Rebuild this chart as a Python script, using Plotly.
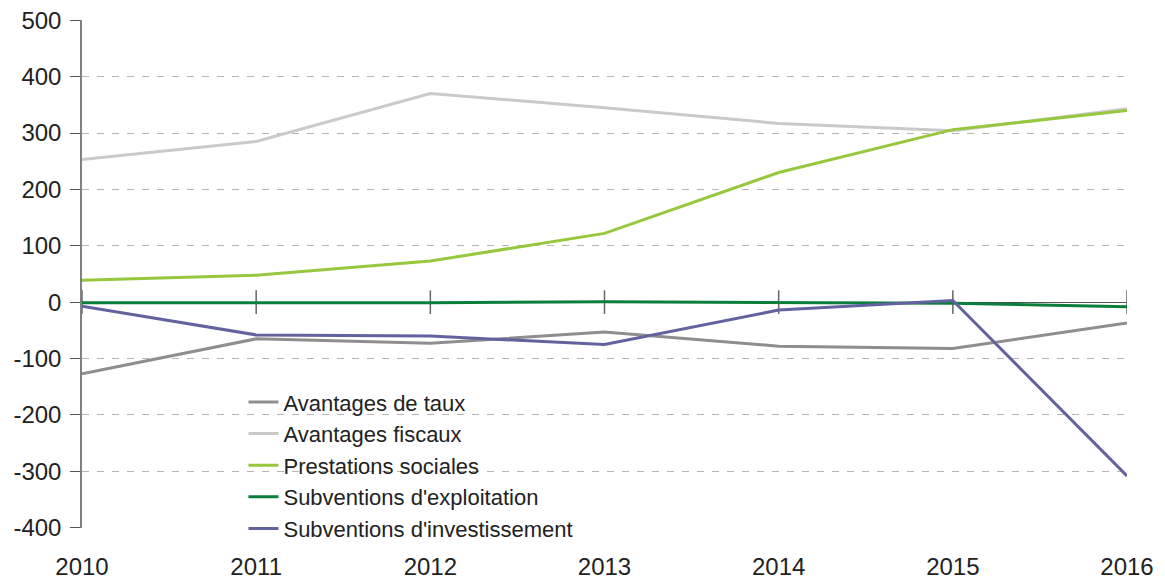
import plotly.graph_objects as go

years = [2010, 2011, 2012, 2013, 2014, 2015, 2016]
avantages_taux = [-127, -65, -73, -53, -78, -82, -37]
avantages_fiscaux = [253, 285, 370, 345, 317, 304, 343]
prestations_sociales = [39, 48, 73, 122, 230, 306, 340]
subv_exploitation = [-1, -1, -1, 1, -1, -2, -8]
subv_investissement = [-7, -58, -60, -75, -14, 3, -308]

names = ["Avantages de taux", "Avantages fiscaux", "Prestations sociales",
         "Subventions d'exploitation", "Subventions d'investissement"]
series = [avantages_taux, avantages_fiscaux, prestations_sociales,
          subv_exploitation, subv_investissement]
colors = ["#8e8e8e", "#cacaca", "#95c83d", "#0b7e3b", "#62639e"]

y_ticks = [-400, -300, -200, -100, 0, 100, 200, 300, 400, 500]
y_ticktext = ["-400", "-300", "-200", "-100", "0", "100", "200", "300", "400", "500"]
y_range = [-400.4, 500.4]

FONT = "Liberation Sans, Arial, sans-serif"
fig = go.Figure()

# x-axis tick marks drawn on the zero line
fig.add_trace(go.Scatter(
    x=years, y=[0] * len(years), mode="markers", showlegend=False, hoverinfo="skip",
    marker=dict(symbol="line-ns", size=17, line=dict(width=1.5, color="#666666")),
))

for name, vals, col in zip(names, series, colors):
    fig.add_trace(go.Scatter(x=years, y=vals, mode="lines", name=name,
                             line=dict(color=col, width=3)))

# white box behind legend (hides gridlines)
fig.add_shape(type="rect", xref="paper", yref="paper", x0=0.019, x1=0.623,
              y0=-0.02, y1=0.30, fillcolor="white", line=dict(width=0), layer="between")

# page body has an 8px margin: size the figure so the plot area lands where it should
fig.update_layout(
    width=1157, height=573,
    margin=dict(l=74, r=38, t=12, b=53),
    paper_bgcolor="white", plot_bgcolor="white",
    font=dict(family=FONT, size=24, color="#222222"),
    showlegend=True,
    legend=dict(x=0.1545, xanchor="left", y=0.289, yanchor="top",
                bgcolor="rgba(0,0,0,0)", font=dict(size=22, color="#222222"),
                tracegroupgap=0, itemwidth=30),
    xaxis=dict(range=[2010, 2016], tickvals=years, ticktext=[str(y) for y in years],
               showgrid=False, zeroline=False, showline=False, ticks="",
               automargin=False, ticklabelstandoff=22, ticklabeloverflow="allow",
               tickfont=dict(size=24, color="#222222")),
    yaxis=dict(range=y_range, tickvals=y_ticks, ticktext=y_ticktext, showgrid=True,
               gridcolor="#b5b5b5", gridwidth=1, griddash="7px,8px",
               zeroline=True, zerolinecolor="#555555", zerolinewidth=1.2,
               showline=True, linecolor="#808080", linewidth=1.5,
               ticks="outside", ticklen=10, tickcolor="#555555", tickwidth=1.3,
               automargin=False, ticklabelstandoff=4, ticklabeloverflow="allow",
               tickfont=dict(size=24, color="#222222")),
    yaxis2=dict(range=y_range, overlaying="y", side="left", anchor="x",
                tickvals=y_ticks, showticklabels=False, showgrid=False,
                zeroline=False, showline=False, ticks="inside", ticklen=8,
                tickcolor="#555555", tickwidth=1.3, automargin=False),
)

fig.write_html("out.html")
